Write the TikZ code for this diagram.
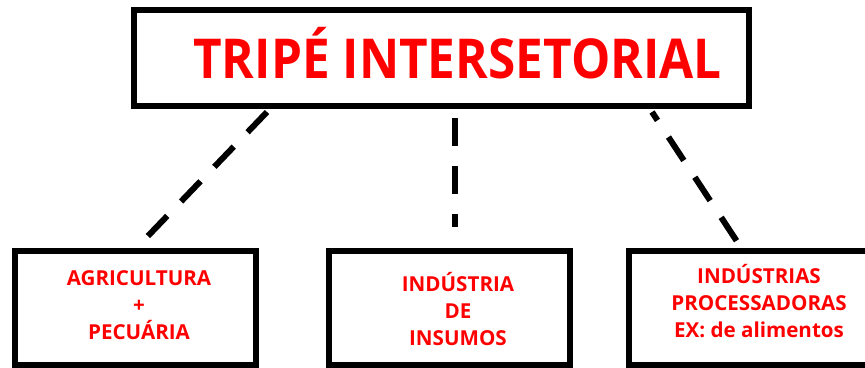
\documentclass[tikz,border=0pt]{standalone}
\usepackage{fontspec}
\setmainfont{Open Sans}
\newfontfamily\titlefont{Open Sans}[FakeStretch=0.9]
\begin{document}
\begin{tikzpicture}[x=1pt,y=-1pt]
\tikzset{box/.style={draw, line width=6pt, minimum width=241pt, minimum height=114pt, inner sep=0pt},
  sector/.style={text=red, font=\bfseries\fontsize{20.6}{27}\selectfont, align=center, inner sep=0pt, anchor=base},
  dashline/.style={line width=6pt, dash pattern=on 28pt off 20pt}}
\clip (0,0) rectangle (865,367);
% top box
\node[draw, line width=6pt, minimum width=615pt, minimum height=96pt] (tri) at (441.5,58){};
\node[text=red, font=\titlefont\bfseries\fontsize{55}{60}\selectfont, inner sep=0pt, anchor=base] (title) at (457.5,78){TRIPÉ INTERSETORIAL};
% sector boxes
\node[box] (agr) at (135,308){};
\node[sector] (agrtxt) at (139,339){AGRICULTURA\\+\\PECUÁRIA};
\node[box] (ins) at (449.5,308){};
\node[sector] (instxt) at (458,345){INDÚSTRIA\\DE\\INSUMOS};
\node[box] (pro) at (749.5,308){};
\node[sector] (protxt) at (759,337){INDÚSTRIAS\\PROCESSADORAS\\EX: de alimentos};
% connectors
\coordinate (a1) at (267,112);
\coordinate (a2) at (147,237);
\coordinate (b1) at (455,118);
\coordinate (b2) at (455,227);
\coordinate (c1) at (652,112);
\coordinate (c2) at (738,243);
\draw[dashline] (a1) -- (a2);
\draw[dashline] (b1) -- (b2);
\draw[dashline, dash phase=18pt] (c1) -- (c2);
\end{tikzpicture}
\end{document}
